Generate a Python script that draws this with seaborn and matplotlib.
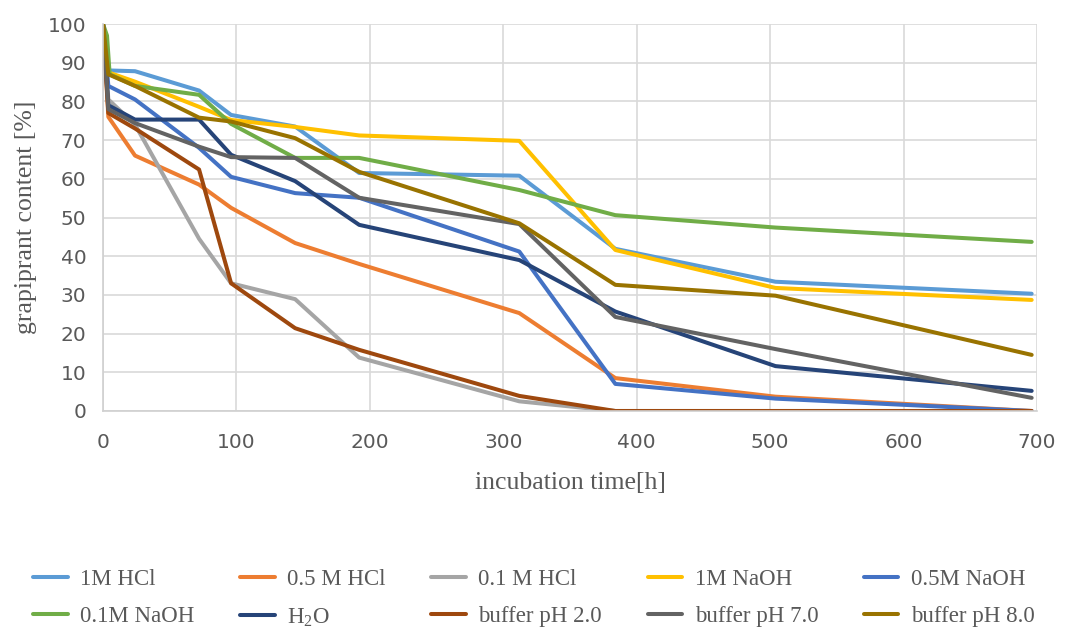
import numpy as np
import matplotlib
matplotlib.use('Agg')
import matplotlib.pyplot as plt
import pandas as pd
import seaborn as sns

# incubation times [h]
hours = [0, 4, 24, 72, 96, 144, 192, 312, 384, 504, 696]
hours_naoh_01 = [0, 3, 5, 24, 72, 96, 144, 192, 312, 384, 504, 696]

hcl_1m = [100, 88.0, 87.8, 82.8, 76.5, 73.5, 61.5, 60.8, 41.9, 33.4, 30.3]
hcl_05m = [100, 76.0, 66.0, 58.5, 52.5, 43.4, 38.0, 25.3, 8.5, 3.7, 0.0]
hcl_01m = [100, 80.5, 74.0, 44.5, 33.0, 28.9, 13.8, 2.5, 0.0, 0.0, 0.0]
naoh_1m = [100, 87.5, 85.1, 78.6, 75.2, 73.4, 71.2, 69.8, 41.6, 31.8, 28.7]
naoh_05m = [100, 84.0, 80.5, 68.0, 60.5, 56.3, 55.1, 41.2, 7.0, 3.2, 0.0]
naoh_01m = [100, 97.0, 87.0, 84.0, 81.7, 74.2, 65.4, 65.4, 57.1, 50.6, 47.4, 43.7]
water = [100, 79.0, 75.3, 75.3, 66.2, 59.4, 48.1, 39.0, 25.7, 11.6, 5.2]
buffer_20 = [100, 77.0, 73.0, 62.4, 33.0, 21.4, 15.8, 3.9, 0.0, 0.0, 0.0]
buffer_70 = [100, 78.0, 74.4, 68.3, 65.6, 65.4, 55.1, 48.3, 24.3, 16.0, 3.4]
buffer_80 = [100, 87.0, 84.0, 75.8, 74.8, 70.5, 61.8, 48.5, 32.6, 29.8, 14.5]

labels = ['1M HCl', '0.5 M HCl', '0.1 M HCl', '1M NaOH', '0.5M NaOH',
          '0.1M NaOH', 'H$_2$O', 'buffer pH 2.0', 'buffer pH 7.0', 'buffer pH 8.0']
colors = ['#5B9BD5', '#ED7D31', '#A5A5A5', '#FFC000', '#4472C4',
          '#70AD47', '#264478', '#9E480E', '#636363', '#997300']

series = [(hours, hcl_1m), (hours, hcl_05m), (hours, hcl_01m), (hours, naoh_1m),
          (hours, naoh_05m), (hours_naoh_01, naoh_01m), (hours, water),
          (hours, buffer_20), (hours, buffer_70), (hours, buffer_80)]

frames = []
for lab, (t, v) in zip(labels, series):
    frames.append(pd.DataFrame({'hours': t, 'content': v, 'series': lab}))
df = pd.concat(frames, ignore_index=True)

sns.set_style('whitegrid')
plt.rcParams['font.family'] = ['DejaVu Sans']
plt.rcParams['mathtext.fontset'] = 'custom'
plt.rcParams['mathtext.rm'] = 'Liberation Serif'
plt.rcParams['mathtext.it'] = 'Liberation Serif:italic'

fig = plt.figure(figsize=(10.73, 6.28), dpi=100)
ax = fig.add_axes([103/1073, 1-411/628, (1037-103)/1073, (411-24)/628])

sns.lineplot(data=df, x='hours', y='content', hue='series',
             hue_order=labels, palette=colors, estimator=None,
             linewidth=2.9, ax=ax)

ax.set_xlim(0, 700)
ax.set_ylim(0, 100)
ax.set_xticks(np.arange(0, 701, 100))
ax.set_yticks(np.arange(0, 101, 10))
ax.grid(True, color='#D9D9D9', linewidth=1.2)
for s in ['top', 'right']:
    ax.spines[s].set_visible(False)
for s in ['left', 'bottom']:
    ax.spines[s].set_color('#D0D0D0')
    ax.spines[s].set_linewidth(1.2)
ax.tick_params(axis='both', length=0, labelsize=14.5, colors='#595959')
ax.tick_params(axis='x', pad=16)
ax.tick_params(axis='y', pad=12)

serif = ['Liberation Serif', 'DejaVu Serif']
ax.set_xlabel('incubation time[h]', family=serif, fontsize=18.5,
              color='#595959', labelpad=14)
ax.set_ylabel('grapiprant content [%]', family=serif, fontsize=18.5,
              color='#595959', labelpad=8)

handles, labs = ax.get_legend_handles_labels()
ax.get_legend().remove()
order = [0, 5, 1, 6, 2, 7, 3, 8, 4, 9]
leg = fig.legend([handles[i] for i in order], [labs[i] for i in order],
                 loc='upper left', bbox_to_anchor=(24/1073, 0.0, 1020/1073, 1-560/628),
                 mode='expand', ncol=5, frameon=False, borderaxespad=0,
                 handlelength=1.5, handletextpad=0.55, labelspacing=0.7,
                 prop={'family': serif, 'size': 16.5})
for t in leg.get_texts():
    t.set_color('#595959')
for h in leg.legend_handles:
    h.set_linewidth(2.9)

plt.savefig('out.png', dpi=100)
